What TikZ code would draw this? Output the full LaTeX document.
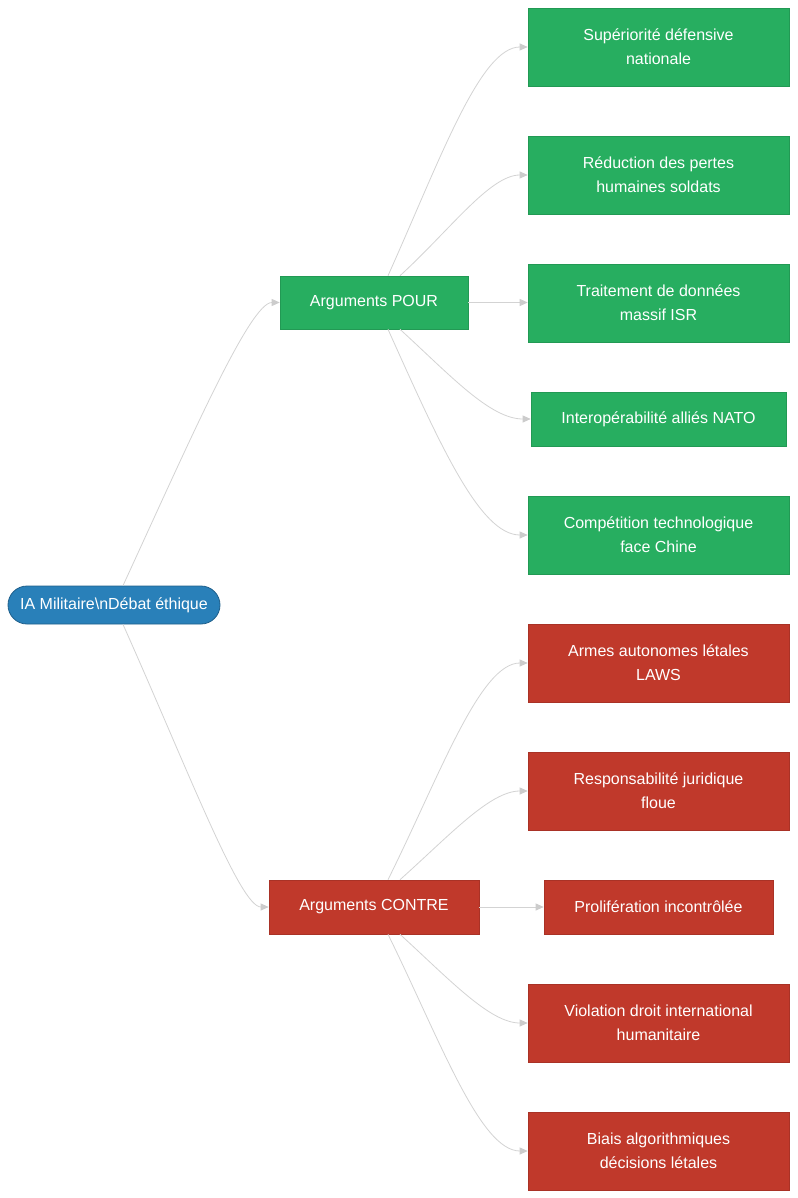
\documentclass[tikz,border=0pt]{standalone}
\usepackage{fontspec}
\setmainfont{Liberation Sans}
\usetikzlibrary{arrows.meta}
\definecolor{pgreen}{HTML}{27AE60}
\definecolor{pgreenb}{HTML}{229954}
\definecolor{pred}{HTML}{C0392B}
\definecolor{predb}{HTML}{A93226}
\definecolor{pblue}{HTML}{2980B9}
\definecolor{pblueb}{HTML}{1F5F8B}
\definecolor{edgec}{HTML}{D3D3D3}
\definecolor{tipc}{HTML}{CCCCCC}
\tikzset{
  x=1pt, y=-1pt,
  every node/.style={font=\fontsize{16}{24}\selectfont, text=white, align=center, inner sep=0pt},
  rootbox/.style={draw=pblueb, fill=pblue, rounded corners=19pt, line width=0.8pt, minimum width=212pt, minimum height=38pt},
  gbox/.style={draw=pgreenb, fill=pgreen, line width=0.6pt},
  rbox/.style={draw=predb, fill=pred, line width=0.6pt},
  conn/.style={draw=edgec, line width=0.8pt, -{Triangle[length=8pt,width=7pt,color=tipc,fill=tipc]}}
}
\begin{document}
\begin{tikzpicture}
\useasboundingbox (0,0) rectangle (797,1198);
% root
\node[rootbox] (root) at (114,605) {IA Militaire\textbackslash nDébat éthique};
% middle
\node[gbox, minimum width=188pt, minimum height=53pt] (pour) at (374,302.5) {Arguments POUR};
\node[rbox, minimum width=210pt, minimum height=54pt] (contre) at (374,907) {Arguments CONTRE};
% green leaves
\node[gbox, minimum width=261pt, minimum height=78pt] (g1) at (658.5,47) {Supériorité défensive\\nationale};
\node[gbox, minimum width=261pt, minimum height=78pt] (g2) at (658.5,175) {Réduction des pertes\\humaines soldats};
\node[gbox, minimum width=261pt, minimum height=78pt] (g3) at (658.5,303) {Traitement de données\\massif ISR};
\node[gbox, minimum width=255pt, minimum height=54pt] (g4) at (658.5,419) {Interopérabilité alliés NATO};
\node[gbox, minimum width=261pt, minimum height=78pt] (g5) at (658.5,535) {Compétition technologique\\face Chine};
% red leaves
\node[rbox, minimum width=261pt, minimum height=78pt] (r1) at (658.5,663) {Armes autonomes létales\\LAWS};
\node[rbox, minimum width=261pt, minimum height=78pt] (r2) at (658.5,791) {Responsabilité juridique\\floue};
\node[rbox, minimum width=229pt, minimum height=54pt] (r3) at (658.5,907) {Prolifération incontrôlée};
\node[rbox, minimum width=261pt, minimum height=78pt] (r4) at (658.5,1023) {Violation droit international\\humanitaire};
\node[rbox, minimum width=261pt, minimum height=78pt] (r5) at (658.5,1151) {Biais algorithmiques\\décisions létales};
% root edges
\draw[conn] ([xshift=9pt]root.north) .. controls (190,440) and (250,302.5) .. (pour.west);
\draw[conn] ([xshift=9pt]root.south) .. controls (188,770) and (240,907) .. (contre.west);
% pour edges
\draw[conn] ([xshift=14pt]pour.north) .. controls (440,160) and (480,47) .. (g1.west);
\draw[conn] ([xshift=26pt]pour.north) .. controls (450,230) and (490,175) .. (g2.west);
\draw[conn] (pour.east) -- (g3.west |- pour.east);
\draw[conn] ([xshift=26pt]pour.south) .. controls (450,375) and (490,419) .. (g4.west);
\draw[conn] ([xshift=14pt]pour.south) .. controls (440,445) and (480,535) .. (g5.west);
% contre edges
\draw[conn] ([xshift=14pt]contre.north) .. controls (440,775) and (480,663) .. (r1.west);
\draw[conn] ([xshift=26pt]contre.north) .. controls (450,835) and (490,791) .. (r2.west);
\draw[conn] (contre.east) -- (r3.west);
\draw[conn] ([xshift=26pt]contre.south) .. controls (450,980) and (490,1023) .. (r4.west);
\draw[conn] ([xshift=14pt]contre.south) .. controls (440,1040) and (480,1151) .. (r5.west);
\end{tikzpicture}
\end{document}
